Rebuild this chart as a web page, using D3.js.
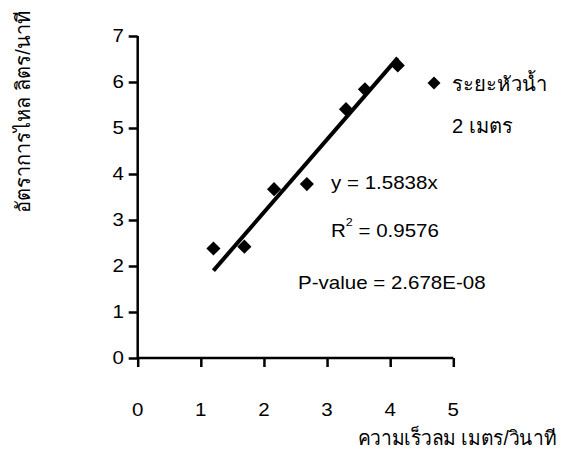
<!DOCTYPE html>
<html>
<head>
<meta charset="utf-8">
<script src="https://cdn.jsdelivr.net/npm/d3@7/dist/d3.min.js"></script>
<style>
  html, body { margin: 0; padding: 0; background: #fff; }
  svg { display: block; }
  text { font-family: "Liberation Sans", Arial, sans-serif; fill: #000; }
</style>
</head>
<body>
<svg id="chart" width="583" height="450"></svg>
<script>
// Wind speed (m/s) vs. flow rate (L/min), head 2 m
const windSpeed = [1.20, 1.69, 2.16, 2.68, 3.30, 3.60, 4.12];
const flowRate  = [2.38, 2.42, 3.67, 3.78, 5.41, 5.84, 6.36];
const slope = 1.5838;
const xTicks = [0, 1, 2, 3, 4, 5];
const yTicks = [0, 1, 2, 3, 4, 5, 6, 7];
const statLabels = ["y = 1.5838x", "= 0.9576", "P-value = 2.678E-08"];
const legendLabel = ["ระยะหัวน้ำ", "2 เมตร"];
const xTitle = "ความเร็วลม เมตร/วินาที";
const yTitle = "อัตราการไหล ลิตร/นาที";

const svg = d3.select("#chart");
const stretch = 1.14;   // text is drawn slightly wide
const fs = 18;

const x = d3.scaleLinear().domain([0, 5]).range([137.7, 453.3]);
const y = d3.scaleLinear().domain([0, 7]).range([358, 36]);

// wide text helper
function wideText(g, px, py, str, anchor) {
  const t = g.append("g").attr("transform", `translate(${px},${py}) scale(${stretch},1)`)
    .append("text").attr("font-size", fs).attr("text-anchor", anchor || "start")
    .attr("dominant-baseline", "central").text(str);
  return t;
}

// Y axis
const yAxis = svg.append("g").attr("transform", `translate(${x(0)},0)`)
  .call(d3.axisLeft(y).tickValues(yTicks).tickSize(9).tickFormat(""));
yAxis.select(".domain").attr("stroke", "#000").attr("stroke-width", 2.5).attr("d", `M0,${y(7)}V${y(0)}`);
yAxis.selectAll(".tick line").attr("stroke", "#000").attr("stroke-width", 2.5);
yTicks.forEach(v => wideText(svg, 124, y(v), String(v), "end"));

// X axis
const xAxis = svg.append("g").attr("transform", `translate(0,${y(0)})`)
  .call(d3.axisBottom(x).tickValues(xTicks).tickSize(9).tickFormat(""));
xAxis.select(".domain").attr("stroke", "#000").attr("stroke-width", 2.5).attr("d", `M${x(0)},0H${x(5)}`);
xAxis.selectAll(".tick line").attr("stroke", "#000").attr("stroke-width", 2.5);
xTicks.forEach(v => wideText(svg, x(v), 410, String(v), "middle"));

// Trend line y = slope * x across the observed range
const x0 = d3.min(windSpeed), x1 = d3.max(windSpeed);
svg.append("line")
  .attr("x1", x(x0)).attr("y1", y(slope * x0))
  .attr("x2", x(x1)).attr("y2", y(slope * x1))
  .attr("stroke", "#000").attr("stroke-width", 4);

// Diamond markers
const diamond = d3.symbol().type(d3.symbolSquare).size(100);
svg.append("g").selectAll("path").data(windSpeed).join("path")
  .attr("d", diamond)
  .attr("transform", (d, i) => `translate(${x(d)},${y(flowRate[i])}) rotate(45)`)
  .attr("fill", "#000");

// Regression statistics
wideText(svg, 331, 183, statLabels[0]);
const r2 = wideText(svg, 331, 230, "");
r2.append("tspan").text("R");
r2.append("tspan").attr("font-size", 11).attr("dy", -9).text("2");
r2.append("tspan").attr("dy", 9).text(" " + statLabels[1]);
wideText(svg, 298, 283, statLabels[2]);

// Legend
svg.append("path").attr("d", d3.symbol().type(d3.symbolSquare).size(84))
  .attr("transform", "translate(434,83) rotate(45)").attr("fill", "#000");
function fitText(px, py, str, len, anchor, rot) {
  const t = svg.append("text")
    .attr("transform", `translate(${px},${py})` + (rot ? ` rotate(${rot})` : ""))
    .attr("font-size", 20).attr("text-anchor", anchor || "start")
    .attr("dominant-baseline", "central").text(str);
  t.attr("textLength", len).attr("lengthAdjust", "spacingAndGlyphs");
  return t;
}
fitText(452, 84, legendLabel[0], 95);
fitText(452, 126, legendLabel[1], 61);

// Axis titles
fitText(556, 438, xTitle, 198, "end");
fitText(23, 112, yTitle, 202, "middle", -90);
</script>
</body>
</html>
